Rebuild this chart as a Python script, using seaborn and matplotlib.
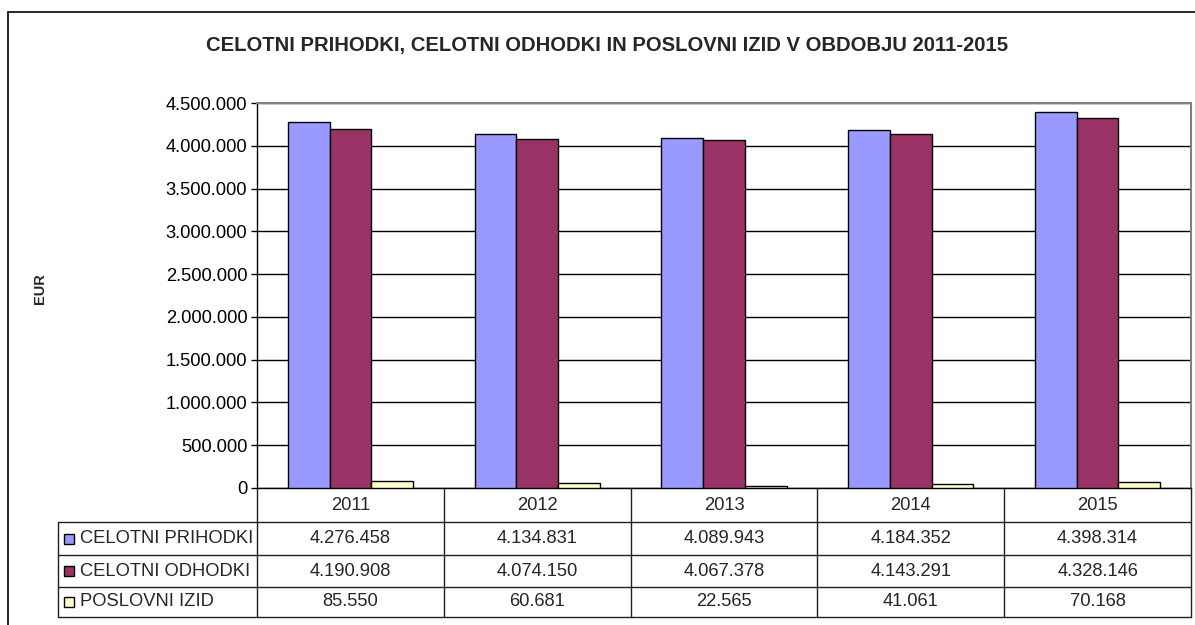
import matplotlib
matplotlib.use("Agg")
import matplotlib.pyplot as plt
from matplotlib.lines import Line2D
from matplotlib.patches import Rectangle
from matplotlib.transforms import blended_transform_factory
import seaborn as sns
import pandas as pd

years = ["2011", "2012", "2013", "2014", "2015"]
series = ["CELOTNI PRIHODKI", "CELOTNI ODHODKI", "POSLOVNI IZID"]
prihodki = [4276458, 4134831, 4089943, 4184352, 4398314]
odhodki = [4190908, 4074150, 4067378, 4143291, 4328146]
izid = [85550, 60681, 22565, 41061, 70168]
colors = ["#9999FF", "#993366", "#FFFFCC"]
yticks = [0, 500000, 1000000, 1500000, 2000000, 2500000, 3000000, 3500000, 4000000, 4500000]

values = [prihodki, odhodki, izid]
rows = []
for s, vals in zip(series, values):
    for y, v in zip(years, vals):
        rows.append({"year": y, "series": s, "value": v})
df = pd.DataFrame(rows)


def fmt(v):
    return f"{v:,}".replace(",", ".")


sns.set_theme(style="white")
plt.rcParams["font.family"] = ["Liberation Sans", "DejaVu Sans"]

W, H = 1195, 625
fig = plt.figure(figsize=(W / 100, H / 100), dpi=100)


def fx(x):
    return x / W


def fy(y):
    return 1 - y / H


FS = 13.2
ax_left, ax_right, ax_top, ax_bot = 257, 1191, 103, 488
ax = fig.add_axes([fx(ax_left), fy(ax_bot), (ax_right - ax_left) / W, (ax_bot - ax_top) / H])

sns.barplot(data=df, x="year", y="value", hue="series", palette=colors,
            saturation=1, edgecolor="black", linewidth=1, width=0.67, dodge=True,
            ax=ax, legend=False, zorder=3)

ax.set_ylim(0, 4500000)
ax.set_xlim(-0.5, len(years) - 0.5)
ax.set_yticks(yticks)
ax.set_yticklabels([fmt(v) for v in yticks], fontsize=FS, color="black")
ax.set_xticks([])
ax.set_xlabel("")
ax.set_ylabel("")
ax.yaxis.grid(True, color="black", linewidth=1)
ax.set_axisbelow(True)
ax.tick_params(axis="y", which="major", direction="out", length=4, width=1,
               color="black", pad=3, left=True)
for side in ["top", "right"]:
    ax.spines[side].set_color("#808080")
    ax.spines[side].set_linewidth(1.5)
ax.spines["left"].set_color("black")
ax.spines["bottom"].set_color("black")
ax.spines["left"].set_linewidth(1)
ax.spines["bottom"].set_linewidth(1)

# Title and y label
fig.text(fx(607), fy(45), "CELOTNI PRIHODKI, CELOTNI ODHODKI IN POSLOVNI IZID V OBDOBJU 2011-2015",
         ha="center", va="center", fontsize=14.6, fontweight="bold")
fig.text(fx(40), fy(289), "EUR", rotation=90, ha="center", va="center",
         fontsize=10.5, fontweight="bold")

# Outer frame (left and top visible)
fig.add_artist(Line2D([fx(8), fx(8)], [fy(12), 0], transform=fig.transFigure, color="black", lw=1.2))
fig.add_artist(Line2D([fx(8), 1], [fy(12), fy(12)], transform=fig.transFigure, color="black", lw=1.2))

# Data table
row_lines = [522, 555, 587, 617]
tab_left = 58
blend = blended_transform_factory(ax.transData, fig.transFigure)
lc = "#202020"
for ry in row_lines:
    fig.add_artist(Line2D([fx(tab_left), fx(ax_right)], [fy(ry), fy(ry)],
                          transform=fig.transFigure, color=lc, lw=1))
fig.add_artist(Line2D([fx(tab_left), fx(tab_left)], [fy(row_lines[0]), fy(row_lines[-1])],
                      transform=fig.transFigure, color=lc, lw=1))
for i in range(len(years) + 1):
    fig.add_artist(Line2D([i - 0.5, i - 0.5], [fy(ax_bot), fy(row_lines[-1])],
                          transform=blend, color=lc, lw=1))

header_y = (ax_bot + row_lines[0]) / 2
for i, y in enumerate(years):
    fig.text(i, fy(header_y), y, transform=blend, ha="center", va="center", fontsize=FS)

row_tops = [row_lines[0], row_lines[1], row_lines[2]]
row_bots = [row_lines[1], row_lines[2], row_lines[3]]
for s, vals, c, t, b in zip(series, values, colors, row_tops, row_bots):
    cy = (t + b) / 2
    fig.add_artist(Rectangle((fx(64), fy(cy + 5)), 10 / W, 10 / H, transform=fig.transFigure,
                             facecolor=c, edgecolor="black", lw=1))
    fig.text(fx(80), fy(cy), s, ha="left", va="center", fontsize=FS)
    for i, v in enumerate(vals):
        fig.text(i, fy(cy), fmt(v), transform=blend, ha="center", va="center", fontsize=FS)

fig.savefig("out.png", dpi=100, facecolor="white")
